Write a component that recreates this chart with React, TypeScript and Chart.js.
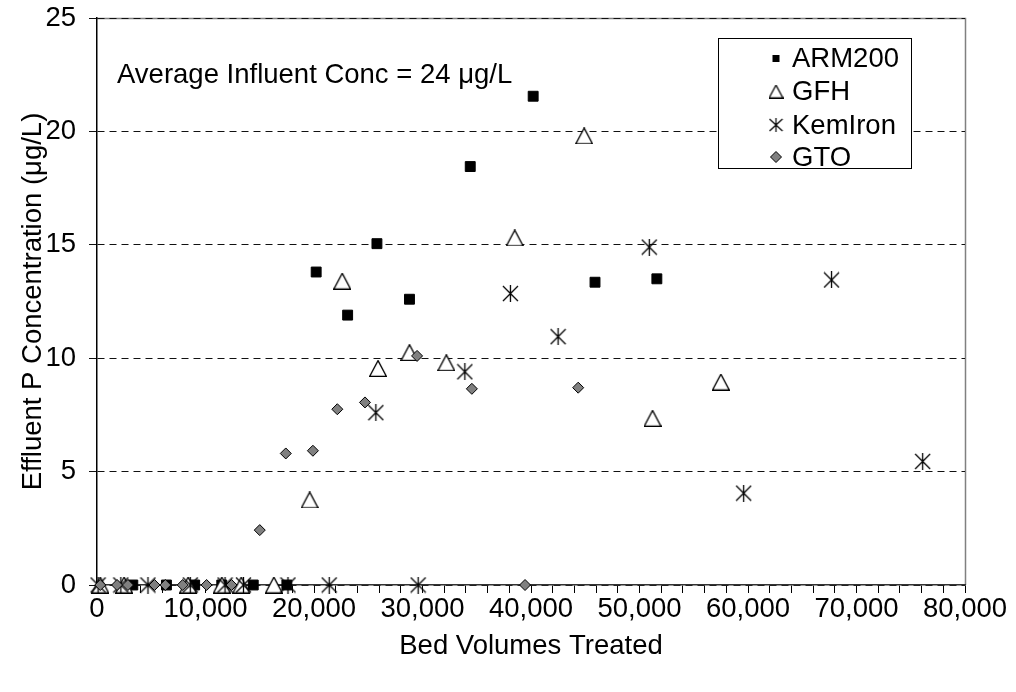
import React, { useEffect, useRef } from 'react';
import { Chart, registerables } from 'chart.js';
Chart.register(...registerables);

const FONT = '"Liberation Sans", Arial, Helvetica, sans-serif';
const FS = 27.5;

// ---------- data ----------
const seriesNames = ['ARM200', 'GFH', 'KemIron', 'GTO'];

const arm200X = [3300, 6400, 9000, 11500, 14400, 17500, 20200, 23100, 25800, 28800, 34400, 40200, 45900, 51600];
const arm200Y = [0, 0, 0, 0, 0, 0, 13.8, 11.9, 15.05, 12.6, 18.45, 21.55, 13.35, 13.5];

const gfhX = [300, 2500, 8400, 11500, 13300, 16300, 19600, 22600, 25900, 28800, 32200, 38500, 44900, 51200, 57500];
const gfhY = [0, 0, 0, 0, 0, 0, 3.75, 13.4, 9.55, 10.25, 9.8, 15.3, 19.8, 7.35, 8.95];

const kemIronX = [100, 2200, 4700, 8600, 11800, 13500, 17600, 21400, 25700, 29600, 33900, 38100, 42500, 50900, 59600, 67700, 76100];
const kemIronY = [0, 0, 0, 0, 0, 0, 0, 0, 7.6, 0, 9.4, 12.85, 10.95, 14.9, 4.05, 13.45, 5.45];

const gtoX = [300, 1850, 2850, 5300, 6300, 7900, 10100, 12400, 15000, 17400, 19900, 22150, 24700, 29500, 34550, 39450, 44350];
const gtoY = [0, 0, 0, 0, 0, 0, 0, 0, 2.42, 5.8, 5.92, 7.75, 8.05, 10.1, 8.65, 0, 8.7];

const xMin = 0;
const xMax = 80000;
const xStep = 2000;
const xLabelEvery = 10000;
const yMin = 0;
const yMax = 25;
const yStep = 5;

const xAxisTitle = 'Bed Volumes Treated';
const yAxisTitle = 'Effluent P Concentration (\u03bcg/L)';
const annotationText = 'Average Influent Conc = 24 \u03bcg/L';

// ---------- marker images ----------
function makeTriangle(w: number, h: number, lw: number): HTMLCanvasElement {
  const c = document.createElement('canvas');
  c.width = w;
  c.height = h;
  const ctx = c.getContext('2d')!;
  ctx.beginPath();
  ctx.moveTo(w / 2, lw / 2);
  ctx.lineTo(w - lw / 2, h - lw / 2);
  ctx.lineTo(lw / 2, h - lw / 2);
  ctx.closePath();
  ctx.fillStyle = '#fff';
  ctx.fill();
  ctx.lineWidth = lw;
  ctx.strokeStyle = '#000';
  ctx.lineJoin = 'miter';
  ctx.stroke();
  return c;
}

function makeAsterisk(w: number, h: number, lw: number): HTMLCanvasElement {
  const c = document.createElement('canvas');
  c.width = w;
  c.height = h;
  const ctx = c.getContext('2d')!;
  ctx.lineWidth = lw;
  ctx.strokeStyle = '#000';
  ctx.beginPath();
  ctx.moveTo(w / 2, 0);
  ctx.lineTo(w / 2, h);
  ctx.moveTo(1, 1);
  ctx.lineTo(w - 1, h - 1);
  ctx.moveTo(w - 1, 1);
  ctx.lineTo(1, h - 1);
  ctx.stroke();
  return c;
}

const toPoints = (xs: number[], ys: number[]) => xs.map((x, i) => ({ x, y: ys[i] }));

export default function App() {
  const ref = useRef<HTMLCanvasElement>(null);

  useEffect(() => {
    const canvas = ref.current;
    if (!canvas) return;
    Chart.defaults.font.family = FONT;
    Chart.defaults.color = '#000';

    const tri = makeTriangle(18, 17, 1.3);
    const star = makeAsterisk(17, 17, 1.3);
    const legTri = makeTriangle(15, 14, 1.2);
    const legStar = makeAsterisk(15, 14, 1.2);

    const framePlugin = {
      id: 'frame',
      beforeDraw(chart: any) {
        const { ctx, chartArea: a } = chart;
        ctx.save();
        ctx.strokeStyle = '#808080';
        ctx.lineWidth = 1.5;
        ctx.beginPath();
        ctx.moveTo(a.left, a.top + 0.5);
        ctx.lineTo(a.right + 0.5, a.top + 0.5);
        ctx.lineTo(a.right + 0.5, a.bottom);
        ctx.stroke();
        ctx.restore();
      },
      afterDraw(chart: any) {
        const { ctx } = chart;
        ctx.save();
        // annotation
        ctx.font = `${FS}px ${FONT}`;
        ctx.fillStyle = '#000';
        ctx.textBaseline = 'middle';
        ctx.textAlign = 'left';
        ctx.fillText(annotationText, 117, 75);

        // legend box
        const bx = 718.5, by = 38.5, bw = 193, bh = 130;
        ctx.fillStyle = '#fff';
        ctx.fillRect(bx, by, bw, bh);
        ctx.strokeStyle = '#000';
        ctx.lineWidth = 1;
        ctx.strokeRect(bx, by, bw, bh);

        const rowsY = [58.5, 91.5, 125, 157];
        const mx = 776;
        ctx.fillStyle = '#000';
        ctx.fillRect(mx - 3.5, rowsY[0] - 3.5, 7, 7);
        ctx.drawImage(legTri, mx - legTri.width / 2, rowsY[1] - legTri.height / 2);
        ctx.drawImage(legStar, mx - legStar.width / 2, rowsY[2] - legStar.height / 2);
        ctx.beginPath();
        ctx.moveTo(mx, rowsY[3] - 5.5);
        ctx.lineTo(mx + 5.5, rowsY[3]);
        ctx.lineTo(mx, rowsY[3] + 5.5);
        ctx.lineTo(mx - 5.5, rowsY[3]);
        ctx.closePath();
        ctx.fillStyle = '#808080';
        ctx.fill();
        ctx.strokeStyle = '#000';
        ctx.lineWidth = 1;
        ctx.stroke();

        ctx.fillStyle = '#000';
        ctx.font = `${FS}px ${FONT}`;
        ctx.textBaseline = 'middle';
        seriesNames.forEach((n, i) => ctx.fillText(n, 792, rowsY[i] + 1));
        ctx.restore();
      },
    };

    const chart = new Chart(canvas, {
      type: 'scatter',
      data: {
        datasets: [
          {
            label: seriesNames[0],
            data: toPoints(arm200X, arm200Y),
            pointStyle: 'rect',
            pointRadius: 7,
            backgroundColor: '#000',
            borderColor: '#000',
            borderWidth: 1,
            clip: false,
            order: 3,
          },
          {
            label: seriesNames[1],
            data: toPoints(gfhX, gfhY),
            pointStyle: tri as any,
            pointRadius: 8,
            backgroundColor: '#fff',
            borderColor: '#000',
            clip: false,
            order: 2,
          },
          {
            label: seriesNames[2],
            data: toPoints(kemIronX, kemIronY),
            pointStyle: star as any,
            pointRadius: 8,
            backgroundColor: '#000',
            borderColor: '#000',
            clip: false,
            order: 1,
          },
          {
            label: seriesNames[3],
            data: toPoints(gtoX, gtoY),
            pointStyle: 'rectRot',
            pointRadius: 5.5,
            backgroundColor: '#808080',
            borderColor: '#000',
            borderWidth: 1,
            clip: false,
            order: 0,
          },
        ],
      },
      options: {
        responsive: false,
        animation: false,
        devicePixelRatio: 1,
        events: [],
        layout: { padding: { left: 0, top: 18, right: 51, bottom: 0 } },
        plugins: {
          legend: { display: false },
          tooltip: { enabled: false },
          title: { display: false },
        },
        scales: {
          x: {
            type: 'linear',
            min: xMin,
            max: xMax,
            afterFit: (s: any) => { s.height = 107; },
            grid: {
              drawOnChartArea: false,
              drawTicks: true,
              tickLength: 8,
              color: '#000',
              lineWidth: 1,
            },
            border: { display: true, color: '#333', width: 1.5 },
            ticks: {
              stepSize: xStep,
              autoSkip: false,
              maxRotation: 0,
              minRotation: 0,
              padding: 0,
              font: { size: FS, family: FONT },
              color: '#000',
              callback: (v: any) => (Number(v) % xLabelEvery === 0 ? Number(v).toLocaleString('en-US') : ''),
            },
            title: {
              display: true,
              text: xAxisTitle,
              font: { size: FS, family: FONT },
              color: '#000',
              padding: { top: 0, bottom: 29.5 },
            },
          },
          y: {
            type: 'linear',
            min: yMin,
            max: yMax,
            afterFit: (s: any) => {
              s.width = 97;
              s.paddingTop = 0;
              s.paddingBottom = 0;
            },
            grid: {
              drawOnChartArea: true,
              drawTicks: true,
              tickLength: 8,
              color: '#111',
              lineWidth: 1,
              tickBorderDash: [],
            } as any,
            border: { display: true, color: '#000', width: 1.5, dash: [7, 5] },
            ticks: {
              stepSize: yStep,
              padding: 13,
              font: { size: FS, family: FONT },
              color: '#000',
            },
            title: {
              display: true,
              text: yAxisTitle,
              font: { size: FS, family: FONT },
              color: '#000',
              padding: { top: 16.5, bottom: 0 },
            },
          },
        },
      },
      plugins: [framePlugin],
    });

    return () => chart.destroy();
  }, []);

  return (
    <div style={{ position: 'absolute', left: 0, top: 0, width: 1016, height: 692, background: '#fff' }}>
      <canvas ref={ref} width={1016} height={692} style={{ display: 'block' }} />
    </div>
  );
}
